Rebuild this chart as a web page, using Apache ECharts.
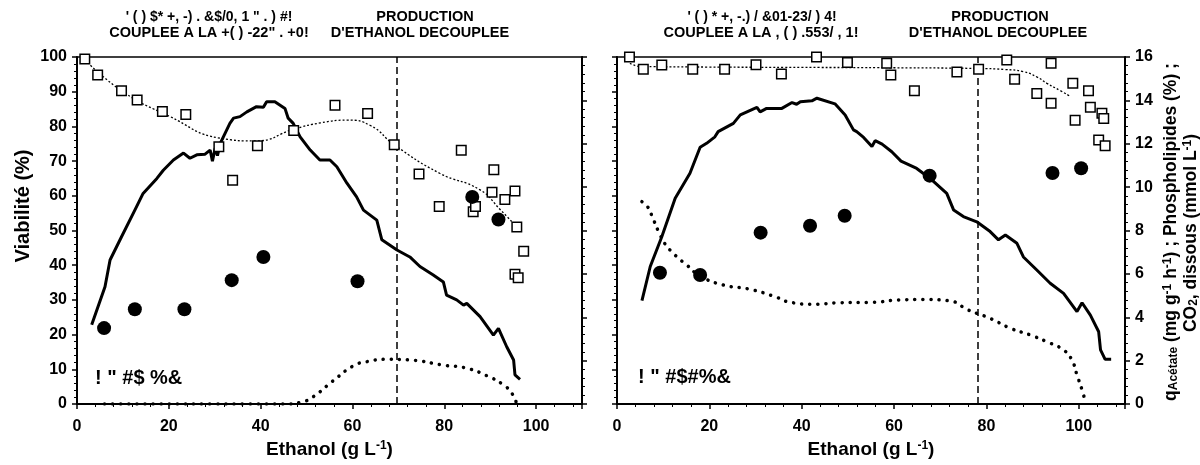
<!DOCTYPE html>
<html lang="fr">
<head>
<meta charset="UTF-8">
<title>Viabilité et éthanol</title>
<script src="https://cdn.jsdelivr.net/npm/echarts@6/dist/echarts.min.js"></script>
<style>
  * { margin: 0; padding: 0; }
  body { background: #fff; }
  #chart { width: 1200px; height: 465px; }
</style>
</head>
<body>
<div id="chart"></div>
<script>
// ---- panneau gauche : [éthanol g/L, valeur] ----
const viabG = [[1.7,99.4],[4.5,94.8],[9.7,90.3],[13.1,87.6],[18.6,84.3],[23.7,83.4],[30.9,74.1],[33.9,64.5],
  [39.3,74.4],[47.2,78.8],[56.2,86.1],[63.3,83.7],[69.1,74.7],[74.5,66.3],[78.9,56.9],[83.7,73.1],[86.3,55.4],
  [86.8,56.9],[90.8,67.5],[90.4,61.0],[93.2,58.9],[95.4,61.4],[95.8,51.0],[97.3,44.0],[95.4,37.4],[96.1,36.4]];
const viabFitG = [[1.7,99.2],[10,90],[20,83],[31.2,76.6],[39,75.8],[47.2,79.2],[53,81],[58.8,81.8],[64,80.2],
  [69.1,74.7],[79,66.5],[87.8,61.7],[92.2,56],[95.8,51]];
const cerclesG = [[5.9,3.5],[12.6,4.37],[23.4,4.37],[33.7,5.71],[40.6,6.78],[61.1,5.66],[86.1,9.55],[91.8,8.51]];
const courbeG = [[3.2,3.65],[6.1,5.41],[7.2,6.64],[9.7,7.71],[12.6,8.94],[14.4,9.71],[17.4,10.4],[18.8,10.78],
  [21,11.25],[23.2,11.57],[24.6,11.33],[26.1,11.49],[27.9,11.52],[29,11.71],[29.5,11.2],[30.1,11.8],[30.6,11.45],
  [31.2,12.02],[33.3,12.94],[34.1,13.18],[35.5,13.25],[37,13.47],[39.1,13.71],[40.6,13.68],[41.3,13.94],
  [43.1,13.94],[45.3,13.63],[46,13.18],[47.1,12.94],[48.6,12.32],[50.8,11.71],[52.9,11.25],[55.1,11.25],
  [56.6,10.94],[58.8,10.18],[60.9,9.55],[62.4,8.94],[65.3,8.48],[66.4,7.57],[69.7,7.1],[72.5,6.78],[74.7,6.34],
  [77.6,5.95],[79.8,5.63],[80.5,5.02],[82.7,4.8],[84.2,4.56],[84.9,4.64],[87.8,4.03],[90.7,3.18],[91.8,3.49],
  [93.6,2.64],[95.1,2.03],[95.4,1.34],[96.5,1.14]];
const pointsG = [[6,0],[45,0],[49.3,0.11],[51.5,0.34],[55.5,1.02],[60.2,1.76],[63.1,1.95],[67.5,2.06],[72.5,2.03],
  [79.8,1.79],[84.9,1.65],[89.3,1.3],[92.9,0.88],[94.7,0.5],[95.8,0]];
const limiteG = 69.6;

// ---- panneau droit ----
const viabD = [[2.7,100],[5.7,96.5],[9.7,97.7],[16.4,96.5],[23.3,96.5],[30.1,97.8],[35.6,95.1],[43.2,100],
  [49.9,98.4],[58.4,98.2],[59.3,94.8],[64.4,90.3],[73.6,95.7],[78.3,96.5],[84.4,99.1],[86.1,93.6],[90.9,89.5],
  [94.0,98.2],[94.0,86.7],[98.7,92.4],[99.2,81.8],[102.1,90.3],[102.5,85.5],[105.0,83.8],[105.4,82.3],
  [104.3,76.1],[105.7,74.4]];
const viabFitD = [[2.8,98.2],[5,97.3],[20,97.1],[40,97.0],[60,96.9],[78,96.7],[84,96.4],[88,95.8],[91,94.2],
  [93.1,92.4],[96,90.3],[98.2,88.6]];
const cerclesD = [[9.3,6.05],[18,5.95],[31.1,7.9],[41.8,8.22],[49.3,8.68],[67.7,10.53],[94.3,10.65],[100.5,10.87]];
const courbeD = [[5.4,4.77],[7.2,6.34],[9.7,7.71],[12.6,9.49],[15.8,10.64],[18,11.84],[19.4,12.02],[21.2,12.32],
  [21.9,12.56],[25.2,12.94],[26.7,13.33],[30.3,13.68],[31,13.47],[32.4,13.63],[35.7,13.63],[37.9,13.9],
  [38.9,13.82],[39.7,13.94],[42.2,13.98],[43.3,14.1],[47.2,13.84],[49.4,13.33],[51.2,12.64],[51.9,12.56],
  [53.4,12.29],[55.2,11.87],[55.9,12.14],[57.4,11.98],[59.5,11.63],[61.5,11.2],[64.9,10.86],[67.8,10.4],
  [71.4,9.71],[72.9,8.94],[75,8.64],[77.9,8.4],[80.8,7.95],[82.6,7.57],[84.1,7.79],[86.6,7.41],[88,6.78],
  [90.9,6.18],[93.8,5.57],[96.7,5.1],[99.6,4.26],[100.7,4.67],[102.5,4.1],[104.3,3.33],[104.7,2.5],
  [105.7,2.06],[107,2.06]];
const pointsD = [[5.4,9.33],[6.6,9.1],[7.5,8.71],[9,7.95],[10.8,7.25],[11.9,7.02],[13.3,6.72],[15.1,6.41],
  [18,5.9],[23,5.49],[28.8,5.29],[34.2,4.95],[37.5,4.69],[42.5,4.6],[48.3,4.67],[55.5,4.69],[61,4.8],
  [66.4,4.82],[72.2,4.75],[75.8,4.36],[77.9,4.18],[80.8,3.95],[85.2,3.49],[89.5,3.18],[93.1,2.87],
  [96.7,2.49],[98.5,2.03],[99.6,1.34],[100.7,0.65],[101.4,0.11]];
const limiteD = 78.1;

const FONT = 'Liberation Sans';
const bold = { fontFamily: FONT, fontWeight: 'bold', color: '#000' };

function axeX(grid) {
  return {
    type: 'value', gridIndex: grid, min: 0, max: 110, interval: 20,
    axisLine: { lineStyle: { color: '#000', width: 2 } },
    axisTick: { length: 5, lineStyle: { color: '#000', width: 1.5 } },
    minorTick: { show: true, splitNumber: 5, length: 3, lineStyle: { color: '#000' } },
    axisLabel: Object.assign({ fontSize: 16, margin: 15, showMaxLabel: false }, bold),
    splitLine: { show: false },
    name: 'Ethanol (g L{sup|-1})', nameLocation: 'middle', nameGap: 31,
    nameTextStyle: Object.assign({ fontSize: 19, rich: { sup: { fontSize: 12, verticalAlign: 'top', fontFamily: FONT, fontWeight: 'bold' } } }, bold)
  };
}

function axeY(grid, pos, max, interval, labels) {
  return {
    type: 'value', gridIndex: grid, position: pos, min: 0, max: max, interval: interval,
    axisLine: { show: true, lineStyle: { color: '#000', width: 2 } },
    axisTick: { show: true, length: 5, lineStyle: { color: '#000', width: 1.5 } },
    minorTick: { show: true, splitNumber: 5, length: 3, lineStyle: { color: '#000' } },
    axisLabel: Object.assign({ show: labels, fontSize: 16, margin: 10 }, bold),
    splitLine: { show: false }
  };
}

function carres(data, x, y) {
  return { type: 'scatter', xAxisIndex: x, yAxisIndex: y, data: data, symbol: 'rect', symbolSize: 9.5, z: 5,
    itemStyle: { color: '#fff', borderColor: '#000', borderWidth: 1.5, opacity: 1 } };
}
function ajust(data, x, y) {
  return { type: 'line', xAxisIndex: x, yAxisIndex: y, data: data, smooth: true, showSymbol: false, z: 3,
    lineStyle: { color: '#000', width: 1.3, type: [2, 2] } };
}
function cercles(data, x, y) {
  return { type: 'scatter', xAxisIndex: x, yAxisIndex: y, data: data, symbol: 'circle', symbolSize: 14, z: 6,
    itemStyle: { color: '#000', opacity: 1 } };
}
function courbe(data, x, y, limite) {
  return { type: 'line', xAxisIndex: x, yAxisIndex: y, data: data, showSymbol: false, z: 4,
    lineStyle: { color: '#000', width: 3 },
    markLine: { symbol: 'none', silent: true, label: { show: false },
      lineStyle: { color: '#000', width: 1.5, type: [7, 4] }, data: [{ xAxis: limite }] } };
}
function pointilles(data, x, y) {
  return { type: 'line', xAxisIndex: x, yAxisIndex: y, data: data, smooth: true, showSymbol: false, z: 4,
    lineStyle: { color: '#000', width: 3.5, type: [0.1, 8], cap: 'round' } };
}

function texte(txt, x, y, size, align) {
  return { type: 'text', x: x, y: y, style: { text: txt, fontFamily: FONT, fontWeight: 'bold', fontSize: size,
    fill: '#000', align: align || 'center', verticalAlign: 'middle' } };
}
const richAxe = {
  sub: { fontSize: 12, verticalAlign: 'bottom', fontFamily: FONT, fontWeight: 'bold' },
  sup: { fontSize: 12, verticalAlign: 'top', fontFamily: FONT, fontWeight: 'bold' }
};
function texteVertical(txt, x, y, size) {
  return { type: 'text', x: x, y: y, rotation: Math.PI / 2,
    style: { text: txt, fontFamily: FONT, fontWeight: 'bold', fontSize: size, fill: '#000', align: 'center',
      verticalAlign: 'middle', rich: richAxe } };
}

const chart = echarts.init(document.getElementById('chart'));
chart.setOption({
  animation: false,
  grid: [
    { left: 77, right: 618, top: 57, bottom: 61, show: true, borderColor: '#000', borderWidth: 1.5 },
    { left: 617, right: 75, top: 57, bottom: 61, show: true, borderColor: '#000', borderWidth: 1.5 }
  ],
  xAxis: [axeX(0), axeX(1)],
  yAxis: [
    axeY(0, 'left', 100, 10, true),
    axeY(0, 'right', 16, 2, false),
    axeY(1, 'left', 100, 10, false),
    axeY(1, 'right', 16, 2, true)
  ],
  series: [
    ajust(viabFitG, 0, 0), carres(viabG, 0, 0), cercles(cerclesG, 0, 1),
    courbe(courbeG, 0, 1, limiteG), pointilles(pointsG, 0, 1),
    ajust(viabFitD, 1, 2), carres(viabD, 1, 2), cercles(cerclesD, 1, 3),
    courbe(courbeD, 1, 3, limiteD), pointilles(pointsD, 1, 3)
  ],
  graphic: [
    texte('\' ( ) $* +, -) . &$/0, 1 " . ) #!', 209, 17, 14),
    texte('COUPLEE A LA +( ) -22" . +0!', 209, 33, 14.5),
    texte('PRODUCTION', 425, 17, 14.5),
    texte('D\'ETHANOL DECOUPLEE', 420, 33, 14.5),
    texte('\' ( ) * +, -.) / &01-23/ ) 4!', 762, 17, 14),
    texte('COUPLEE A LA , ( ) .553/ , 1!', 761, 33, 14.5),
    texte('PRODUCTION', 1000, 17, 14.5),
    texte('D\'ETHANOL DECOUPLEE', 998, 33, 14.5),
    texte('! " #$ %&', 95, 378, 20, 'left'),
    texte('! " #$#%&', 638, 377, 20, 'left'),
    texteVertical('Viabilité (%)', 23, 206, 20),
    texteVertical('q{sub|Acétate} (mg g{sup|-1} h{sup|-1}) ; Phospholipides (%) ;', 1171, 232, 17.5),
    texteVertical('CO{sub|2}, dissous (mmol L{sup|-1})', 1191, 233, 17.5)
  ]
});
</script>
</body>
</html>
